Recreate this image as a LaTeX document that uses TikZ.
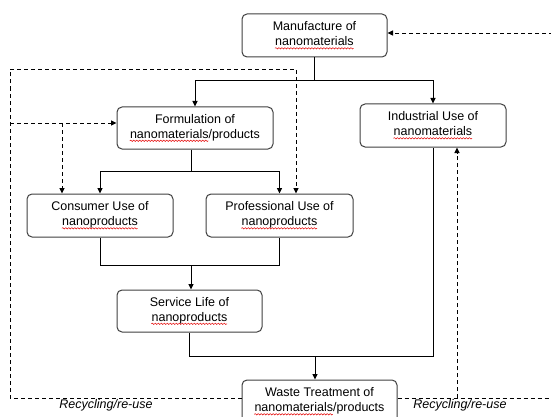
\documentclass[tikz,border=0pt]{standalone}
\usepackage{fontspec}
\setmainfont{Liberation Sans}
\usetikzlibrary{arrows.meta,calc,decorations.pathmorphing}
\newsavebox\sqbox
\newcommand{\sqw}[1]{\sbox\sqbox{#1}\usebox\sqbox\llap{\tikz[baseline=0pt]{\draw[draw=red!90!black,line width=0.5pt,solid,rounded corners=0pt,decorate,decoration={snake,amplitude=0.7pt,segment length=3pt}] (0pt,-2.5pt) -- ++(\wd\sqbox,0pt);}}}
\tikzset{
  box/.style={draw=black!75, line width=1pt, rounded corners=5pt, fill=white,
    minimum height=43pt, inner sep=0pt, align=center,
    font=\fontsize{12.5}{15}\selectfont},
  conn/.style={draw=black, line width=0.9pt},
  arr/.style={conn, -{Triangle[length=5.5pt,width=5pt]}},
  dsh/.style={draw=black, line width=0.9pt, dash pattern=on 4pt off 3pt},
  darr/.style={dsh, -{Triangle[length=5.5pt,width=5pt]}},
  lab/.style={font=\fontsize{12.5}{15}\selectfont\itshape, inner sep=0pt}
}
\begin{document}
\begin{tikzpicture}[x=1pt,y=-1pt]
\useasboundingbox (0,0) rectangle (551,417);
% boxes
\node[box, minimum width=145pt] (man) at (314.5,35.5) {Manufacture of\\\sqw{nanomaterials}};
\node[box, minimum width=146pt] (ind) at (433,125.5) {Industrial Use of\\\sqw{nanomaterials}};
\node[box, minimum width=156pt, minimum height=42pt] (form) at (195,128) {Formulation of\\\sqw{nanomaterials}/products};
\node[box, minimum width=146pt] (cons) at (100,215.5) {Consumer Use of\\\sqw{nanoproducts}};
\node[box, minimum width=147pt] (prof) at (279.5,215.5) {Professional Use of\\\sqw{nanoproducts}};
\node[box, minimum width=145pt, minimum height=42pt] (serv) at (189.5,311) {Service Life of\\\sqw{nanoproducts}};
\node[box, minimum width=155pt] (waste) at (319.5,401.5) {Waste Treatment of\\\sqw{nanomaterials}/products};
% solid connectors
\draw[conn] (man.south) -- ++(0,23) coordinate (j1);
\draw[arr] (j1) -| (form.north);
\draw[arr] (j1) -| (ind.north);
\draw[conn] ([xshift=-4pt]form.south) -- ++(0,22) coordinate (j2);
\draw[arr] (j2) -| (cons.north);
\draw[arr] (j2) -| (prof.north);
\draw[conn] (cons.south) -- ++(0,28) coordinate (j3) -| (prof.south);
\draw[arr] ([xshift=1.5pt]serv.north |- j3) -- ([xshift=1.5pt]serv.north);
\draw[conn] (serv.south) -- ++(0,24) coordinate (j4) -| (ind.south);
\draw[arr] ([xshift=-4.5pt]waste.north |- j4) -- ([xshift=-4.5pt]waste.north);
% dashed recycling
\coordinate (dl) at (10,398);
\coordinate (dr) at (560,398);
\draw[dsh] ([yshift=3.5pt]waste.west) -- (dl) -- (10,69) coordinate (dtl);
\draw[darr] (dtl) -| ([xshift=16.5pt]prof.north);
\draw[darr] (10,123) -- ([yshift=5pt]form.west);
\draw[darr] (62,123) -- (62,0 |- cons.north);
\draw[dsh] ([yshift=3.5pt]waste.east) -- (dr) -- (560,33) coordinate (dtr);
\draw[darr] (dtr) -- ([yshift=2.5pt]man.east);
\draw[darr] (457,398) -- (457,0 |- ind.south);
% labels
\node[lab] (rl) at (106,405.5) {Recycling/re-use};
\node[lab] (rr) at (460,405.5) {Recycling/re-use};
\end{tikzpicture}
\end{document}
